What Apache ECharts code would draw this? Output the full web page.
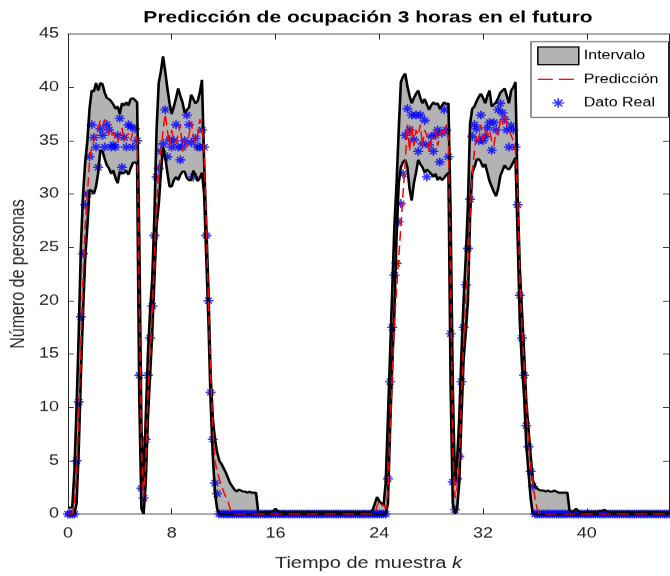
<!DOCTYPE html>
<html><head><meta charset="utf-8">
<script src="https://cdn.jsdelivr.net/npm/echarts@6/dist/echarts.min.js"></script>
<style>
html,body{margin:0;padding:0;width:670px;height:576px;overflow:hidden;background:#fff}
#chart{width:670px;height:720px;transform:scaleY(0.8);transform-origin:0 0;}
</style>
</head><body><div id="chart"></div>
<script>
const titleText = 'Predicción de ocupación 3 horas en el futuro';
const xName = 'Tiempo de muestra {it|k}';
const yName = 'Número de personas';
const legendNames = ['Intervalo', 'Predicción', 'Dato Real'];
const samplesPerUnit = 6;
const xTickLabels = [0, 8, 16, 24, 32, 40];
const yTickLabels = [0, 5, 10, 15, 20, 25, 30, 35, 40, 45];

const real = [
0,0,0,0,5,10.5,18.5,24.4,29,30,
33.5,36.5,35.3,34.4,32.5,36.1,35.5,34.4,36.5,36.0,
34.4,34.6,34.4,35.5,37.1,32.5,35.3,34.4,36.5,36.3,
34.4,36.1,35.0,13,2.4,1.5,7,13,16.5,19.5,
26.1,31.6,32.4,34.0,34.7,37.9,33.5,35.1,34.4,35.0,
36.5,34.4,33.2,34.4,35.0,37.4,36.5,34.8,31.6,35.2,
34.4,34.4,36.0,34.4,26.1,20.0,11.4,7.0,2.9,1.9,
0,0,0,0,0,0,0,0,0,0,
0,0,0,0,0,0,0,0,0,0,
0,0,0,0,0,0,0,0,0,0,
0,0,0,0,0,0,0,0,0,0,
0,0,0,0,0,0,0,0,0,0,
0,0,0,0,0,0,0,0,0,0,
0,0,0,0,0,0,0,0,0,0,
0,0,0,0,0,0,0,0,3.3,12.4,
17.5,22.4,23.5,27.4,29.1,31.9,35.5,38.0,36.0,37.4,
35.1,37.4,34.0,37.4,34.7,36.9,31.6,34.6,35.4,34.0,
35.5,36.0,33.0,35.7,37.9,36.0,33.5,16.9,3.0,0.4,
3.3,5.4,12.4,17.5,21.5,24.9,29.5,35.4,36.5,36.1,
35.0,37.4,35.0,35.4,36.2,36.7,34.1,36.7,36.0,37.9,
38.5,37.6,37.0,36.0,34.4,36.4,36.0,34.4,29.0,20.5,
16.5,13.0,8.3,6.3,4.0,2.6,0,0,0,0,
0,0,0,0,0,0,0,0,0,0,
0,0,0,0,0,0,0,0,0,0,
0,0,0,0,0,0,0,0,0,0,
0,0,0,0,0,0,0,0,0,0,
0,0,0,0,0,0,0,0,0,0,
0,0,0,0,0,0,0,0,0
];

const pred = [
0,0,0,1,4,9,16,22,27,30,
33,34.4,35,35.5,36.2,36.9,36.4,37,36.5,35.3,
35.5,35.8,35.2,34.8,35.5,36.2,35.0,35.4,35.7,35.0,
35.8,35.5,35.2,20,6,1.5,5,11,15,19,
24,29,32,34,36,37.5,36,34.5,36,35,
34.8,35.5,36.5,34,35,34.5,35.5,36.8,35.5,34.8,
35.6,37,36.5,34,27,20,13,8,5,4,
3.3,2.7,2.1,1.6,1.2,0.5,0,0,0,0,
0,0,0,0,0,0,0,0,0,0,
0,0,0,0,0,0,0,0,0,0,
0,0,0,0,0,0,0,0,0,0,
0,0,0,0,0,0,0,0,0,0,
0,0,0,0,0,0,0,0,0,0,
0,0,0,0,0,0,0,0,0,0,
0,0,0,0.8,1.2,1.0,0.8,0.5,2,8,
13,18,21,24,27,30,33,36.5,34,36.5,
34.5,36,35.5,36.5,34.5,36,35.5,34,35,35.5,
36,34.5,35.5,36,35.5,36.5,35,22,6,1.5,
2.5,5,11,16,20,23,28,32,34,35.5,
35,36.5,35,36,35.5,36,35,34.5,36,35.5,
37,36.5,37.5,36.5,36,35.5,35,34,30,22,
17.5,14,10,7,4.5,3,1.5,0.5,0,0,
0,0,0,0,0,0,0,0,0,0,
0,0,0,0,0,0,0,0,0,0,
0,0,0,0,0,0,0,0,0,0,
0,0,0,0,0,0,0,0,0,0,
0,0,0,0,0,0,0,0,0,0,
0,0,0,0,0,0,0,0,0
];

const upper = [
0.6,0.6,0.6,4,10,17,25,30,33,35,
38,39.7,39.6,40.4,39.7,40.4,40.3,39.5,39.0,38.9,
38.7,38.4,38.0,38.2,37.5,38.5,38.3,38.6,38.3,38.9,
39.0,38.8,38.6,26,8,2.5,9,15,19,22,
28,36,40.4,41.5,42.9,41.5,39.9,38.5,37.5,38.2,
39.0,39.9,39.2,38.6,37.6,37.9,38.1,39.3,38.9,38.5,
38.7,39.5,40.7,33,27,21,13,9,7,5.8,
5.0,4.7,4.3,3.9,3.4,2.9,2.6,2.3,2.1,2.3,
2.2,2.1,2.1,2.0,2.1,2.0,2.0,2.0,0.2,0.2,
0.2,0.2,0.2,0.2,0.2,0.3,0.5,0.3,0.2,0.2,
0.2,0.2,0.2,0.2,0.2,0.2,0.2,0.2,0.2,0.2,
0.2,0.2,0.2,0.2,0.2,0.2,0.2,0.2,0.2,0.2,
0.2,0.2,0.2,0.2,0.2,0.2,0.2,0.2,0.2,0.2,
0.2,0.2,0.2,0.2,0.2,0.2,0.2,0.2,0.2,0.2,
0.2,0.4,1.0,1.6,1.2,1.0,0.8,3,9,15,
21,27,31,36,40.5,41.0,41.3,40.1,39.2,38.5,
39.0,39.4,39.7,39.0,38.5,38.9,38.4,37.9,38.3,38.6,
38.4,38.5,38.0,38.3,38.6,38.4,38.5,28,12,3,
5,9,15,20,24,29,36.6,38.0,38.2,38.7,
39.1,39.4,39.0,38.5,39.2,39.7,38.2,38.4,38.6,39.0,
39.5,39.7,39.9,39.2,38.5,39.7,40.0,40.5,30,23,
19,15,10.5,8,5.5,3.2,2.6,2.4,2.25,2.2,
2.2,2.1,2.2,2.1,2.1,2.2,2.1,2.0,2.0,2.0,
2.0,2.0,0.3,0.2,0.3,0.5,0.3,0.2,0.2,0.2,
0.2,0.2,0.2,0.2,0.2,0.2,0.3,0.3,0.4,0.3,
0.2,0.2,0.2,0.2,0.2,0.2,0.2,0.2,0.2,0.2,
0.2,0.2,0.2,0.2,0.2,0.2,0.2,0.2,0.2,0.2,
0.2,0.2,0.2,0.2,0.2,0.2,0.2,0.2,0.2
];

const lower = [
0,0,0,0,1,6,13,19,24,27,
30.4,30.3,30.0,30.7,32.0,34.1,34.0,33.3,32.7,32.4,
31.9,32.2,31.5,31.0,32.1,31.9,32.0,32.2,31.8,32.4,
32.9,33.0,32.8,11,0.5,0,3,9,13,17,
22,27,29,32,34.4,33.5,32.0,30.7,30.7,31.3,
31.6,31.3,31.8,32.1,32.1,31.5,31.3,31.3,32.2,31.8,
31.2,31.5,32.0,30,24,18,10.5,5.5,2,0.5,
0,0,0,0,0,0,0,0,0,0,
0,0,0,0,0,0,0,0,0,0,
0,0,0,0,0,0,0,0,0,0,
0,0,0,0,0,0,0,0,0,0,
0,0,0,0,0,0,0,0,0,0,
0,0,0,0,0,0,0,0,0,0,
0,0,0,0,0,0,0,0,0,0,
0,0,0,0,0,0,0,0,1,8,
14,19,26,31,32.5,33.0,33.2,32.5,30.5,29.4,
31.0,32.0,33.2,32.8,32.5,32.0,32.3,32.1,31.9,31.6,
31.9,31.3,31.6,31.3,31.5,31.8,32.0,12,1,0,
0.5,3,9,14.5,17,20,28,32,32.5,33.2,
33.3,33.0,32.5,32.8,32.0,31.2,30.7,30.2,29.8,30.5,
31.7,32.2,32.7,32.4,32.3,32.6,33.0,33.4,26,18,
14,11,6.5,4,1.5,0,0,0,0,0,
0,0,0,0,0,0,0,0,0,0,
0,0,0,0,0,0,0,0,0,0,
0,0,0,0,0,0,0,0,0,0,
0,0,0,0,0,0,0,0,0,0,
0,0,0,0,0,0,0,0,0,0,
0,0,0,0,0,0,0,0,0
];

const FONT = '"Liberation Sans", Arial, Helvetica, sans-serif';
const AX = '#262626';
const GRAY = '#b3b3b3';
const xMax = (real.length - 1) / samplesPerUnit;
const pairs = arr => arr.map((v, i) => [i / samplesPerUnit, v]);
const STAR = 'path://M5,0L5,10M0,5L10,5M1.6,1.6L8.4,8.4M1.6,8.4L8.4,1.6';
const STAR_LEGEND = 'path://M0,0M41,22M20.5,5L20.5,17M14.5,11L26.5,11M16.3,6.8L24.7,15.2M16.3,15.2L24.7,6.8';
const DASH_LEGEND = 'path://M0,0M41,22M0,11L15,11M21,11L36,11';

const chart = echarts.init(document.getElementById('chart'), null, {renderer: 'canvas'});
const xBase = {
  type: 'value', min: 0, max: xMax, interval: 8,
  splitLine: {show: false},
  axisLine: {show: true, onZero: false, lineStyle: {color: AX, width: 1}},
  axisTick: {show: true, inside: true, length: 7, lineStyle: {color: AX}}
};
const yBase = {
  type: 'value', min: 0, max: 45, interval: 5,
  splitLine: {show: false},
  axisLine: {show: true, onZero: false, lineStyle: {color: AX, width: 1}},
  axisTick: {show: true, inside: true, length: 6, lineStyle: {color: AX}}
};
chart.setOption({
  animation: false,
  backgroundColor: '#fff',
  title: {
    text: titleText, left: 363, top: 7, textAlign: 'center',
    textStyle: {fontFamily: FONT, fontWeight: 'bold', fontSize: 21, color: '#000'}
  },
  grid: {left: 67, right: 1, top: 42.5, bottom: 77.5, containLabel: false},
  legend: {
    orient: 'vertical', left: 531, top: 52, padding: [6, 10, 6, 6],
    itemWidth: 41, itemHeight: 22, itemGap: 6,
    backgroundColor: '#fff', borderColor: AX, borderWidth: 1, borderRadius: 0,
    textStyle: {fontFamily: FONT, fontSize: 16, color: '#000'},
    selectedMode: false,
    data: [
      {name: legendNames[0], icon: 'rect', itemStyle: {color: GRAY, borderColor: '#000', borderWidth: 1.5}},
      {name: legendNames[1], icon: DASH_LEGEND, itemStyle: {color: 'rgba(0,0,0,0)', borderColor: '#ff0000', borderWidth: 1.5}},
      {name: legendNames[2], icon: STAR_LEGEND, itemStyle: {color: '#0000ff', borderColor: '#0000ff', borderWidth: 1.6}}
    ]
  },
  xAxis: [
    Object.assign({}, xBase, {
      position: 'bottom',
      name: xName, nameLocation: 'middle', nameGap: 52,
      nameTextStyle: {fontFamily: FONT, fontSize: 20, color: AX,
        rich: {it: {fontFamily: FONT, fontSize: 20, color: AX, fontStyle: 'italic'}}},
      axisLabel: {show: true, margin: 16, fontFamily: FONT, fontSize: 18, color: AX,
        showMaxLabel: false,
        formatter: v => xTickLabels.indexOf(Math.round(v * 1000) / 1000) >= 0 ? String(v) : ''}
    }),
    Object.assign({}, xBase, {position: 'top', axisLabel: {show: false}})
  ],
  yAxis: [
    Object.assign({}, yBase, {
      position: 'left',
      name: yName, nameLocation: 'middle', nameGap: 35,
      nameTextStyle: {fontFamily: FONT, fontSize: 20, color: AX},
      axisLabel: {show: true, margin: 9, fontFamily: FONT, fontSize: 18, color: AX,
        formatter: v => yTickLabels.indexOf(v) >= 0 ? String(v) : ''}
    }),
    Object.assign({}, yBase, {position: 'right', axisLabel: {show: false}})
  ],
  series: [
    {name: legendNames[0], type: 'custom', data: [[0, 0]],
     itemStyle: {color: GRAY},
     renderItem: (params, api) => {
       const pts = [];
       for (let i = 0; i < upper.length; i++) pts.push(api.coord([i / samplesPerUnit, upper[i]]));
       for (let i = lower.length - 1; i >= 0; i--) pts.push(api.coord([i / samplesPerUnit, lower[i]]));
       return {type: 'polygon', shape: {points: pts}, style: {fill: GRAY, stroke: null}, silent: true};
     }},
    {name: '_upper', type: 'line', data: pairs(upper), symbol: 'none',
     lineStyle: {color: '#000', width: 2.6}, silent: true, clip: false},
    {name: '_lower', type: 'line', data: pairs(lower), symbol: 'none',
     lineStyle: {color: '#000', width: 2.6}, silent: true, clip: false},
    {name: legendNames[1], type: 'line', data: pairs(pred), symbol: 'none',
     itemStyle: {color: '#ff0000'},
     lineStyle: {color: '#ff0000', width: 1.5, type: [12, 6]}, silent: true, clip: false},
    {name: legendNames[2], type: 'scatter', data: pairs(real), symbol: STAR, symbolSize: [10, 11],
     itemStyle: {color: '#0000ff', borderColor: '#0000ff', borderWidth: 1.7}, silent: true, clip: false}
  ]
});
</script>
</body></html>
